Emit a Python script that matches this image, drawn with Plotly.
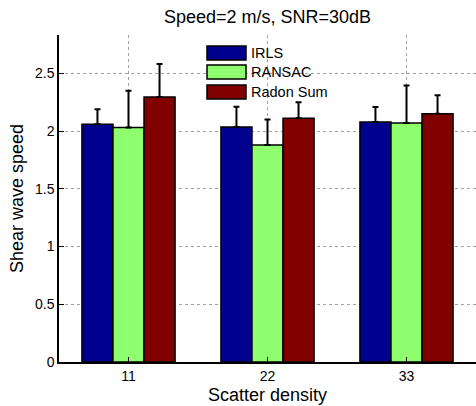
import plotly.graph_objects as go

categories = ["11", "22", "33"]
positions = [1, 2, 3]
series_names = ["IRLS", "RANSAC", "Radon Sum"]
irls_vals = [2.06, 2.035, 2.078]
ransac_vals = [2.03, 1.88, 2.07]
radon_vals = [2.295, 2.11, 2.15]
irls_err = [0.13, 0.175, 0.13]
ransac_err = [0.32, 0.22, 0.325]
radon_err = [0.285, 0.14, 0.16]
colors = ["#00008F", "#8FFF70", "#800000"]
y_ticks = [0, 0.5, 1, 1.5, 2, 2.5]

FONT = "Liberation Sans, Arial, sans-serif"

fig = go.Figure()
for name, vals, errs, col in zip(series_names, [irls_vals, ransac_vals, radon_vals],
                                 [irls_err, ransac_err, radon_err], colors):
    fig.add_trace(go.Bar(
        x=positions, y=vals, name=name,
        marker=dict(color=col, line=dict(color="black", width=1.5)),
        error_y=dict(type="data", array=errs, arrayminus=[0] * len(errs), symmetric=False,
                     color="black", thickness=2, width=3),
        showlegend=False,
    ))

# manual legend (wide swatches like the original)
L, R, T, B = 59, 476, 35, 362
W, H = R - L, B - T
def px(x):
    return (x - L) / W
def py(y):
    return (B - y) / H

rows = [(46, 60), (65, 79), (85, 99)]
for (y0, y1), name, col in zip(rows, series_names, colors):
    fig.add_shape(type="rect", xref="paper", yref="paper",
                  x0=px(207), x1=px(246), y0=py(y1), y1=py(y0),
                  fillcolor=col, line=dict(color="black", width=1.5))
    fig.add_annotation(xref="paper", yref="paper", x=px(249), y=py((y0 + y1) / 2),
                       text=name, showarrow=False, xanchor="left", yanchor="middle",
                       font=dict(family=FONT, size=14.5, color="black"))

fig.update_layout(
    width=476, height=406,
    margin=dict(l=L, r=0, t=T, b=406 - B),
    paper_bgcolor="white", plot_bgcolor="white",
    barmode="group", bargap=0.33, bargroupgap=0,
    font=dict(family=FONT, size=14, color="black"),
    title=dict(text="Speed=2 m/s, SNR=30dB", x=0.5, xanchor="center", xref="paper",
               y=1 - 17 / 406, yanchor="middle", yref="container",
               font=dict(family=FONT, size=18, color="black")),
)
fig.update_xaxes(
    range=[0.5, 3.5], tickmode="array", tickvals=positions, ticktext=categories,
    showline=True, linecolor="black", linewidth=1.5,
    ticks="inside", ticklen=5, tickcolor="black",
    showgrid=True, gridcolor="#a0a0a0", griddash="dot", gridwidth=1,
    zeroline=False,
    title=dict(text="Scatter density", font=dict(family=FONT, size=18), standoff=6),
    tickfont=dict(size=14),
)
fig.update_yaxes(
    range=[0, 2.832], tickmode="array", tickvals=y_ticks,
    ticktext=["0", "0.5", "1", "1.5", "2", "2.5"],
    showline=True, linecolor="black", linewidth=1.5,
    ticks="inside", ticklen=5, tickcolor="black",
    showgrid=True, gridcolor="#a0a0a0", griddash="dot", gridwidth=1,
    zeroline=False,
    title=dict(text="Shear wave speed", font=dict(family=FONT, size=18), standoff=7),
    tickfont=dict(size=14),
)

fig.write_html("out.html")
